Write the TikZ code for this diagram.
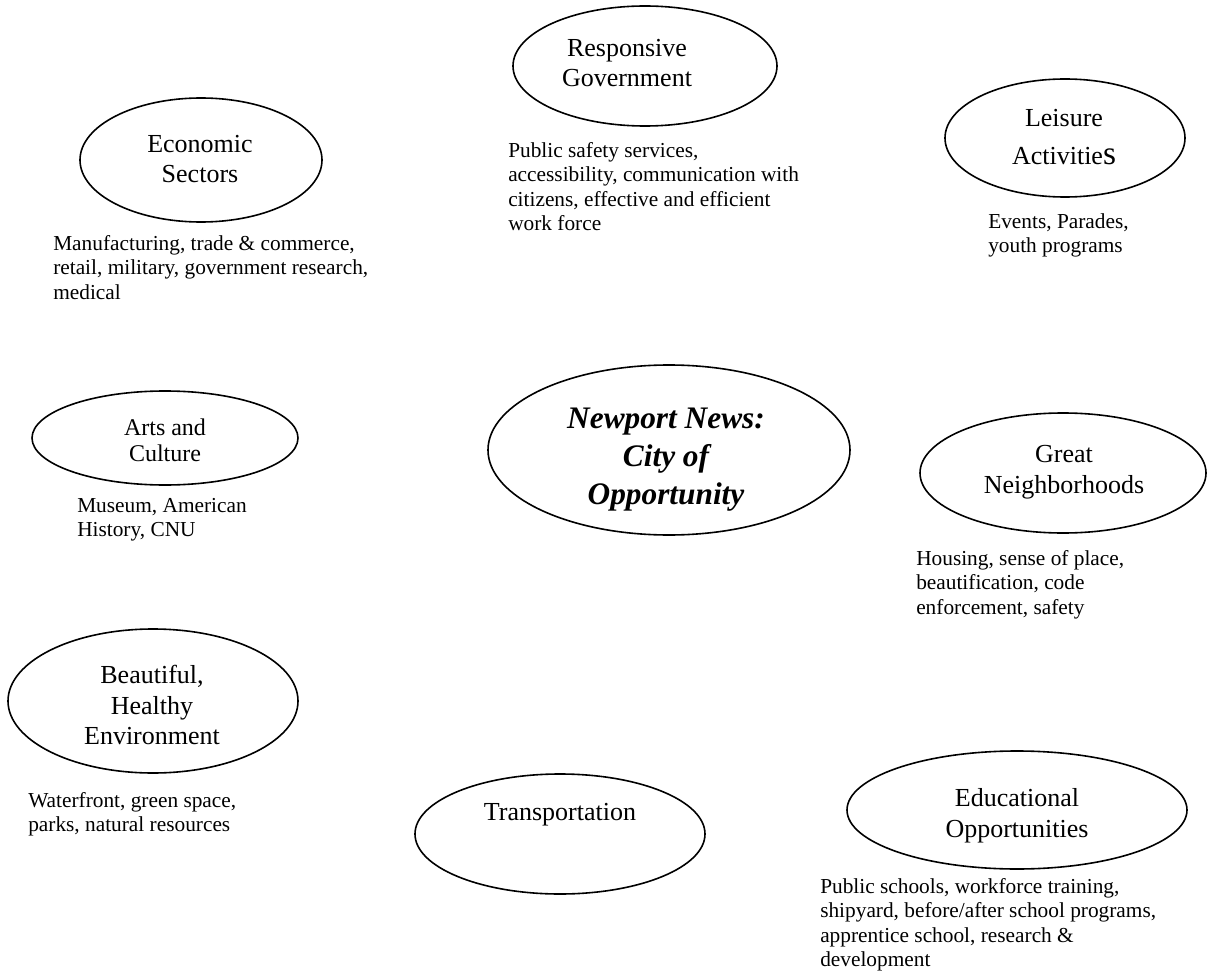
\documentclass[tikz,border=0pt]{standalone}
\usepackage{fontspec}
\setmainfont{Liberation Serif}
\usetikzlibrary{shapes.geometric}

\tikzset{
  oval/.style 2 args={ellipse, draw, line width=1.2pt, inner sep=0pt,
    minimum width=#1*1.5pt, minimum height=#2*1.5pt},
  topic/.style={align=center, inner sep=0pt, font=\fontsize{19.5}{23}\selectfont},
  note/.style={anchor=north west, align=left, inner sep=0pt,
    font=\fontsize{16}{18.4}\selectfont}
}

\begin{document}
\begin{tikzpicture}[x=0.75pt,y=-0.75pt]
\useasboundingbox (0,0) rectangle (1207,977);

% centre
\node[oval={181}{85}] (city) at (669,450) {};
\node[topic, font=\fontsize{23.5}{28.5}\selectfont\bfseries\itshape] (city-t) at (666,460)
  {Newport News:\\City of\\Opportunity};

% top row
\node[oval={121}{62}] (econ) at (201,160) {};
\node[topic] (econ-t) at (200,159) {Economic\\Sectors};
\node[note] (econ-d) at (53,235) {Manufacturing, trade \& commerce,\\retail, military, government research,\\medical};

\node[oval={132}{60}] (resp) at (645,66) {};
\node[topic] (resp-t) at (627,63) {Responsive\\Government};
\node[note] (resp-d) at (508,142) {Public safety services,\\accessibility, communication with\\citizens, effective and efficient\\work force};

\node[oval={120}{59}] (leis) at (1065,138) {};
\node[topic, font=\fontsize{19.5}{28}\selectfont] (leis-t) at (1064,137)
  {Leisure\\Activitie{\fontsize{25}{25}\selectfont s}};
\node[note] (leis-d) at (988,213) {Events, Parades,\\youth programs};

% middle row
\node[oval={133}{47}] (arts) at (165,438) {};
\node[topic, font=\fontsize{18}{19.5}\selectfont] (arts-t) at (165,440) {Arts and\\Culture};
\node[note] (arts-d) at (77,498) {Museum, American\\History, CNU};

\node[oval={143}{60}] (hood) at (1063,473) {};
\node[topic] (hood-t) at (1064,472) {Great\\Neighborhoods};
\node[note] (hood-d) at (916,550) {Housing, sense of place,\\beautification, code\\enforcement, safety};

% bottom row
\node[oval={145}{72}] (env) at (153,701) {};
\node[topic] (env-t) at (152,705) {Beautiful,\\Healthy\\Environment};
\node[note] (env-d) at (28,792) {Waterfront, green space,\\parks, natural resources};

\node[oval={145}{60}] (trans) at (560,834) {};
\node[topic] (trans-t) at (560,815) {Transportation};

\node[oval={170}{59}] (edu) at (1017,810) {};
\node[topic] (edu-t) at (1017,816) {Educational\\Opportunities};
\node[note] (edu-d) at (820,878) {Public schools, workforce training,\\shipyard, before/after school programs,\\apprentice school, research \&\\development};
\end{tikzpicture}
\end{document}
